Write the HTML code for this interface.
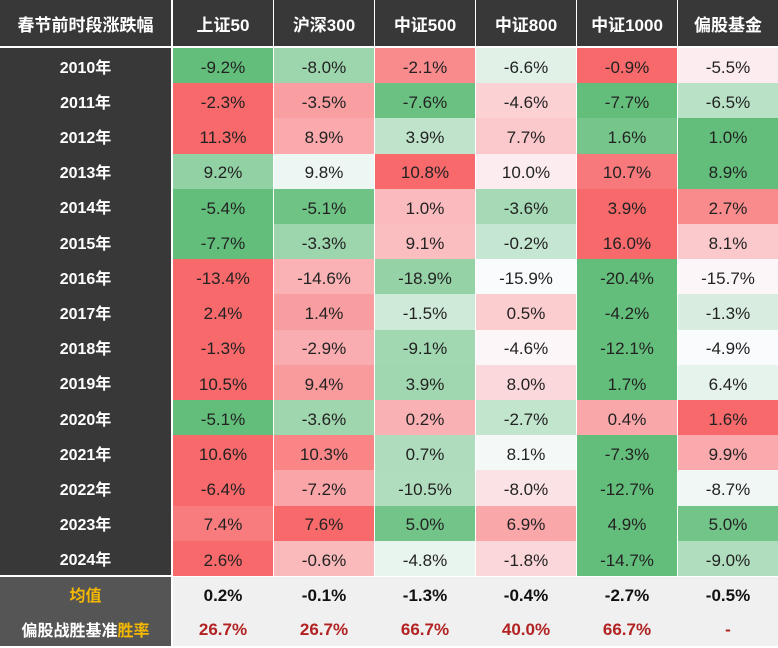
<!DOCTYPE html>
<html><head><meta charset="utf-8">
<style>
body{margin:0;width:778px;height:648px;background:#fff;overflow:hidden;font-family:"Liberation Sans","Noto Sans CJK SC",sans-serif;}
#t{position:relative;width:778px;height:648px;}
.c{position:absolute;display:flex;align-items:center;justify-content:center;box-sizing:border-box;white-space:nowrap;}
</style></head><body>
<div id="t"></div>
<script>
const columns=["上证50","沪深300","中证500","中证800","中证1000","偏股基金"];
const years=["2010年","2011年","2012年","2013年","2014年","2015年","2016年","2017年","2018年","2019年","2020年","2021年","2022年","2023年","2024年"];
const values=[
[-9.2,-8.0,-2.1,-6.6,-0.9,-5.5],
[-2.3,-3.5,-7.6,-4.6,-7.7,-6.5],
[11.3,8.9,3.9,7.7,1.6,1.0],
[9.2,9.8,10.8,10.0,10.7,8.9],
[-5.4,-5.1,1.0,-3.6,3.9,2.7],
[-7.7,-3.3,9.1,-0.2,16.0,8.1],
[-13.4,-14.6,-18.9,-15.9,-20.4,-15.7],
[2.4,1.4,-1.5,0.5,-4.2,-1.3],
[-1.3,-2.9,-9.1,-4.6,-12.1,-4.9],
[10.5,9.4,3.9,8.0,1.7,6.4],
[-5.1,-3.6,0.2,-2.7,0.4,1.6],
[10.6,10.3,0.7,8.1,-7.3,9.9],
[-6.4,-7.2,-10.5,-8.0,-12.7,-8.7],
[7.4,7.6,5.0,6.9,4.9,5.0],
[2.6,-0.6,-4.8,-1.8,-14.7,-9.0]];
const means=["0.2%","-0.1%","-1.3%","-0.4%","-2.7%","-0.5%"];
const winRates=["26.7%","26.7%","66.7%","40.0%","66.7%","-"];

const T=document.getElementById('t');
const colX=[0,172,273,374,475,576,677,778];
const headH=46, rowTop=48, rowH=35.2, footTop=577, footH=34.5;
function cell(x,y,w,h,bg,txt,style,name){
  const d=document.createElement('div');d.className='c';
  d.style.left=x+'px';d.style.top=y+'px';d.style.width=w+'px';d.style.height=h+'px';
  d.style.background=bg;d.innerHTML=txt;if(style)d.style.cssText+=style;
  
  
  T.appendChild(d);return d;
}
function mix(a,b,t){return 'rgb('+a.map((v,i)=>Math.round(v+(b[i]-v)*t)).join(',')+')';}
const G=[99,190,123],W=[252,252,255],R=[248,105,107];
function color(v,row){
  const s=[...row].sort((a,b)=>a-b);const mn=s[0],mx=s[s.length-1];
  const md=(s[2]+s[3])/2;
  if(v>=md)return mix(W,R,mx===md?0:(v-md)/(mx-md));
  return mix(W,G,(md-v)/(md-mn));
}
cell(0,0,colX[1]-1,headH,'#383838','春节前时段涨跌幅','color:#fff;font-weight:bold;font-size:17px;','header-title');
columns.forEach((c,i)=>{
  cell(colX[i+1]+1,0,colX[i+2]-colX[i+1]-1,headH,'#383838',c,'color:#fff;font-weight:bold;font-size:17px;','header-'+i);
});
cell(0,rowTop,colX[1]-1,footTop-rowTop-2,'#383838','','','year-column-bg');
years.forEach((y,r)=>{
  const top=rowTop+r*rowH;
  cell(0,top,colX[1]-1,rowH,'transparent',y,'color:#fff;font-weight:bold;font-size:16px;','year-label');
  values[r].forEach((v,i)=>{
    cell(colX[i+1]+1,top,colX[i+2]-colX[i+1]-1,rowH+0.5,color(v,values[r]),v.toFixed(1)+'%','color:#222;font-size:17px;padding-top:4px;','value-cell');
  });
});
cell(0,footTop,colX[1]-1,footH*2,'#555555','','','footer-label-bg');
cell(colX[1]+1,footTop,778-colX[1]-1,footH*2,'#f0f0f0','','','footer-bg');
cell(0,footTop,colX[1]-1,footH,'transparent','均值','color:#f5b800;font-weight:bold;font-size:16px;','mean-label');
cell(0,footTop+footH,colX[1]-1,footH,'transparent','偏股战胜基准<span style="color:#f5b800">胜率</span>','color:#fff;font-weight:bold;font-size:16px;','win-rate-label');
means.forEach((m,i)=>cell(colX[i+1]+1,footTop,colX[i+2]-colX[i+1]-1,footH,'transparent',m,'color:#111;font-weight:bold;font-size:17px;padding-top:3px;','mean-value'));
winRates.forEach((m,i)=>cell(colX[i+1]+1,footTop+footH,colX[i+2]-colX[i+1]-1,footH,'transparent',m,'color:#b22222;font-weight:bold;font-size:17px;padding-top:3px;','win-rate-value'));
</script>
</body></html>
